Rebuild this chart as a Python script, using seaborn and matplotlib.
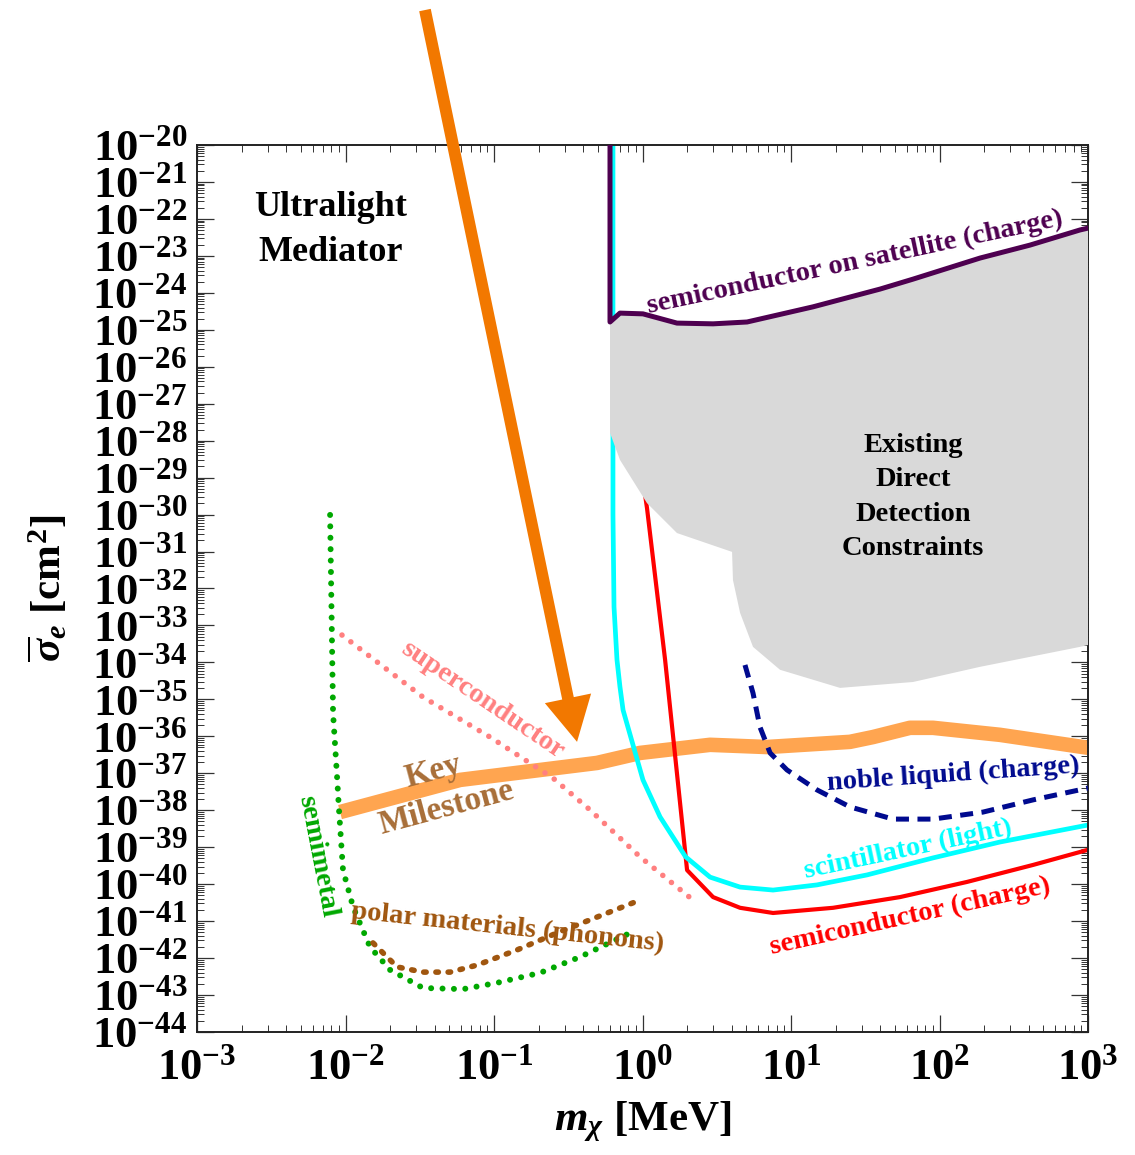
import numpy as np
import matplotlib
matplotlib.use("Agg")
import matplotlib.pyplot as plt
from matplotlib.patches import FancyArrowPatch
from matplotlib.ticker import LogLocator, FuncFormatter, NullFormatter
import seaborn as sns

# ---------------------------------------------------------------
# Curves: log10(m_chi / MeV) and log10(sigma_e / cm^2)
# ---------------------------------------------------------------
sat_logm = [-0.219, -0.219, -0.152, 0.003, 0.232, 0.475, 0.704, 1.148,
            1.599, 1.822, 2.273, 2.609, 2.946, 3.0]
sat_logs = [-20.0, -24.79, -24.55, -24.57, -24.82, -24.84, -24.79, -24.38,
            -23.90, -23.63, -23.06, -22.71, -22.30, -22.25]

excl_low_logm = [-0.219, -0.152, 0.030, 0.232, 0.603, 0.609, 0.657, 0.744,
                 0.926, 1.330, 1.822, 2.273, 2.946, 3.0]
excl_low_logs = [-27.79, -28.52, -29.69, -30.50, -31.01, -31.77, -32.66,
                 -33.58, -34.20, -34.69, -34.53, -34.12, -33.58, -33.53]

scint_logm = [-0.199, -0.199, -0.192, -0.172, -0.152, -0.131, 0.003, 0.118,
              0.290, 0.455, 0.657, 0.879, 1.175, 1.512, 1.956, 2.407, 3.0]
scint_logs = [-20.0, -30.0, -32.5, -33.93, -34.66, -35.29, -37.18, -38.18,
              -39.26, -39.81, -40.08, -40.16, -40.02, -39.75, -39.29, -38.86,
              -38.40]

semi_logm = [0.0, 0.030, 0.152, 0.300, 0.475, 0.657, 0.879, 1.283, 1.734,
             2.185, 2.630, 3.0]
semi_logs = [-29.0, -29.82, -33.93, -39.62, -40.35, -40.64, -40.78, -40.64,
             -40.35, -39.94, -39.48, -39.07]

noble_logm = [0.690, 0.744, 0.791, 0.859, 0.973, 1.175, 1.397, 1.687, 1.956,
              2.293, 2.630, 3.0]
noble_logs = [-34.07, -34.83, -35.75, -36.45, -36.91, -37.45, -37.91, -38.24,
              -38.24, -38.05, -37.72, -37.40]

key_logm = [-2.037, -1.229, -0.306, -0.017, 0.455, 0.838, 1.397, 1.552,
            1.801, 1.956, 2.407, 3.0]
key_logs = [-38.05, -37.18, -36.72, -36.45, -36.23, -36.29, -36.15, -36.02,
            -35.77, -35.77, -35.96, -36.31]

semimetal_logm = [-2.104, -2.084, -2.057, -2.044, -2.017, -1.949, -1.835,
                  -1.700, -1.478, -1.209, -0.980, -0.690, -0.421, -0.084]
semimetal_logs = [-30.01, -35.37, -37.10, -37.99, -39.62, -40.62, -41.70,
                  -42.32, -42.81, -42.84, -42.67, -42.40, -41.97, -41.32]

polar_logm = [-1.815, -1.653, -1.478, -1.296, -1.114, -0.845, -0.576,
              -0.306, -0.017]
polar_logs = [-41.59, -42.24, -42.38, -42.38, -42.19, -41.78, -41.32,
              -40.89, -40.43]

superc_logm = [-2.024, -1.478, -1.027, -0.603, -0.354, -0.017, 0.340]
superc_logs = [-33.26, -34.94, -36.02, -37.13, -37.99, -39.26, -40.43]

# arrow from (m, sigma) start to tip, log10 units
arrow_logm = [-1.465, -0.441]
arrow_logs = [-16.35, -36.15]

x_decades = [-3, 3]
y_decades = [-44, -20]


def lin(v):
    return 10.0 ** np.asarray(v, dtype=float)


sns.set_theme(style="ticks")
plt.rcParams.update({
    "font.family": ["Liberation Serif", "DejaVu Serif"],
    "font.weight": "bold",
    "axes.labelweight": "bold",
    "text.color": "black",
    "axes.labelcolor": "black",
    "xtick.labelcolor": "black",
    "ytick.labelcolor": "black",
    "mathtext.fontset": "custom",
    "mathtext.rm": "Liberation Serif:bold",
    "mathtext.it": "Liberation Serif:italic:bold",
    "mathtext.bf": "Liberation Serif:bold",
    "mathtext.default": "rm",
    "axes.edgecolor": "#222222",
    "axes.linewidth": 1.4,
})

fig = plt.figure(figsize=(11.35, 11.55), dpi=100)
ax = fig.add_axes([0.1736, 0.1065, 0.785, 0.768])
ax.set_xscale("log")
ax.set_yscale("log")
ax.set_xlim(lin(x_decades[0]), lin(x_decades[1]))
ax.set_ylim(lin(y_decades[0]), lin(y_decades[1]))

# Key milestone band (bottom layer)
sns.lineplot(x=lin(key_logm), y=lin(key_logs), sort=False, estimator=None,
             color="#FFA550", lw=10.5, solid_capstyle="butt", ax=ax, zorder=1)

# detector reaches that sit under the exclusion region
sns.lineplot(x=lin(semi_logm), y=lin(semi_logs), sort=False, estimator=None,
             color="#FF0000", lw=3.0, ax=ax, zorder=2)
sns.lineplot(x=lin(scint_logm), y=lin(scint_logs), sort=False, estimator=None,
             color="#00FFFF", lw=3.4, ax=ax, zorder=2)

# existing direct-detection exclusion
poly_x = np.concatenate([lin(sat_logm[1:]), lin(excl_low_logm[::-1])])
poly_y = np.concatenate([lin(sat_logs[1:]), lin(excl_low_logs[::-1])])
ax.fill(poly_x, poly_y, color="#D9D9D9", lw=0, zorder=3)

sns.lineplot(x=lin(sat_logm), y=lin(sat_logs), sort=False, estimator=None,
             color="#4E0050", lw=3.6, ax=ax, zorder=4)

sns.lineplot(x=lin(noble_logm), y=lin(noble_logs), sort=False, estimator=None,
             color="#000A8F", lw=3.6, linestyle=(0, (2.6, 1.7)), ax=ax, zorder=4)

sns.lineplot(x=lin(semimetal_logm), y=lin(semimetal_logs), sort=False,
             estimator=None, color="#00A800", lw=4.3,
             linestyle=(0, (0.01, 1.9)), dash_capstyle="round", ax=ax, zorder=4)

sns.lineplot(x=lin(polar_logm), y=lin(polar_logs), sort=False, estimator=None,
             color="#A0560F", lw=4.0, linestyle=(0, (0.45, 1.75)),
             dash_capstyle="round", ax=ax, zorder=4)

sns.lineplot(x=lin(superc_logm), y=lin(superc_logs), sort=False, estimator=None,
             color="#FF8080", lw=4.0, linestyle=(0, (0.01, 2.0)),
             dash_capstyle="round", ax=ax, zorder=4)

# big orange arrow
arrow = FancyArrowPatch(
    (lin(arrow_logm[0]), lin(arrow_logs[0])),
    (lin(arrow_logm[1]), lin(arrow_logs[1])),
    arrowstyle="simple,head_length=3.2,head_width=3.4,tail_width=0.85",
    mutation_scale=10, color="#F27800", lw=0, shrinkA=0, shrinkB=0,
    clip_on=False, zorder=6)
ax.add_patch(arrow)

# ---------------------------------------------------------------
# Text annotations
# ---------------------------------------------------------------
def label(lx, ly, s, color, size, rot=0.0, ls=1.2):
    ax.text(lin(lx), lin(ly), s, color=color, fontsize=size, rotation=rot,
            ha="center", va="center", rotation_mode="anchor",
            linespacing=ls, fontweight="bold", zorder=7)


label(-2.098, -22.30, "Ultralight\nMediator", "black", 26, 0, 1.47)
label(1.822, -29.52, "Existing\nDirect\nDetection\nConstraints", "black", 20.5, 0, 1.5)
label(1.431, -23.19, "semiconductor on satellite (charge)", "#4E0050", 20.5, 12)
label(-1.081, -35.02, "superconductor", "#FF8080", 20.5, -34)
label(-1.411, -36.96, "Key", "#A86E38", 24, 15)
label(-1.323, -37.94, "Milestone", "#A86E38", 24, 15)
label(-2.192, -39.24, "semimetal", "#00A800", 20.5, -79)
label(-0.906, -41.19, "polar materials (phonons)", "#A0560F", 20.5, -6)
label(2.091, -37.05, "noble liquid (charge)", "#000A8F", 20.5, 4)
label(1.788, -39.07, "scintillator (light)", "#00FFFF", 20.5, 12)
label(1.801, -40.89, "semiconductor (charge)", "#FF0000", 20.5, 12.5)

# ---------------------------------------------------------------
# Axes, ticks and labels
# ---------------------------------------------------------------
def pow_fmt(v, pos):
    return r"$10^{%d}$" % int(round(np.log10(v)))


for axis in (ax.xaxis, ax.yaxis):
    axis.set_major_locator(LogLocator(base=10, numticks=100))
    axis.set_minor_locator(LogLocator(base=10, subs=np.arange(2, 10),
                                      numticks=400))
    axis.set_major_formatter(FuncFormatter(pow_fmt))
    axis.set_minor_formatter(NullFormatter())

ax.tick_params(which="both", direction="in", top=True, right=True,
               color="#333333")
ax.tick_params(which="major", length=12, width=0.9, labelsize=32,
               labelcolor="black")
ax.tick_params(which="minor", length=5, width=0.7)
ax.tick_params(axis="x", which="major", pad=12)
ax.tick_params(axis="y", which="major", pad=7)

ax.set_xlabel(r"$\mathit{m}_{\mathit{\chi}}$ [MeV]", fontsize=31,
              labelpad=8, color="black")
ax.set_ylabel(r"$\overline{\mathit{\sigma}}_{\mathit{e}}$ [cm$^2$]",
              fontsize=31, labelpad=16, color="black")

fig.savefig("out.png", dpi=100)
